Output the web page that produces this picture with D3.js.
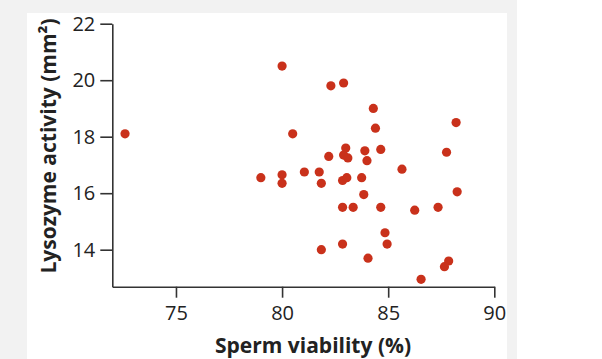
<!DOCTYPE html>
<html><head><meta charset="utf-8">
<script src="https://cdn.jsdelivr.net/npm/d3@7"></script>
<style>
html,body{margin:0;padding:0;background:#fff;}
svg{display:block;}
text{font-family:"Open Sans","Noto Sans",sans-serif;}
</style></head>
<body>
<script>
const viability = [80.0,82.3,82.9,84.3,84.4,88.2,80.5,72.6,83.0,82.9,83.1,82.2,83.9,84.0,84.65,87.75,85.65,79.0,80.0,80.0,81.05,81.75,81.85,82.85,83.05,83.75,83.85,82.85,83.35,84.65,86.25,87.35,88.25,84.85,84.95,82.85,81.85,84.05,87.85,87.65,86.55];
const lysozyme = [20.5,19.8,19.9,19.0,18.3,18.5,18.1,18.1,17.6,17.35,17.25,17.3,17.5,17.15,17.55,17.45,16.85,16.55,16.65,16.35,16.75,16.75,16.35,16.45,16.55,16.55,15.95,15.5,15.5,15.5,15.4,15.5,16.05,14.6,14.2,14.2,14.0,13.7,13.6,13.4,12.95];
const xTicks = [75,80,85,90];
const yTicks = [14,16,18,20,22];
const xTitle = "Sperm viability (%)";
const yTitle = "Lysozyme activity (mm²)";

const W=602,H=359;
const svg=d3.select("body").append("svg").attr("width",W).attr("height",H);
svg.append("rect").attr("x",0).attr("y",0).attr("width",517).attr("height",H).attr("fill","#f2f2f2");
svg.append("rect").attr("x",27).attr("y",13).attr("width",480).attr("height",H-13).attr("fill","#fff");

const x=d3.scaleLinear().domain([72,90]).range([112.3,494.3]);
const y=d3.scaleLinear().domain([12.69,22]).range([286.7,23.7]);

const axColor="#333";
const gx=svg.append("g").attr("transform","translate(0,286.7)")
  .call(d3.axisBottom(x).tickValues(xTicks).tickSize(11).tickPadding(8).tickSizeOuter(0));
const gy=svg.append("g").attr("transform","translate(112.3,0)")
  .call(d3.axisLeft(y).tickValues(yTicks).tickSize(12).tickPadding(5).tickSizeOuter(0));
[gx,gy].forEach(g=>{
  g.attr("font-size",null).attr("font-family",null);
  g.selectAll("path.domain").attr("stroke",axColor).attr("stroke-width",1.6);
  g.selectAll(".tick line").attr("stroke",axColor).attr("stroke-width",1.6);
  g.selectAll(".tick text").attr("fill","#222").attr("font-size",20).attr("font-family",'"Open Sans",sans-serif');
});

svg.append("g").selectAll("circle").data(viability).join("circle")
  .attr("cx",(d)=>x(d)).attr("cy",(d,i)=>y(lysozyme[i])).attr("r",4.6)
  .attr("fill","#c9311b");

svg.append("text").attr("x",313).attr("y",353).attr("text-anchor","middle")
  .attr("font-size",21).attr("font-weight",700).attr("fill","#222").text(xTitle);
svg.append("text").attr("transform","translate(56,146) rotate(-90)").attr("text-anchor","middle")
  .attr("font-size",21).attr("font-weight",700).attr("fill","#222").text(yTitle);
</script>
</body></html>
